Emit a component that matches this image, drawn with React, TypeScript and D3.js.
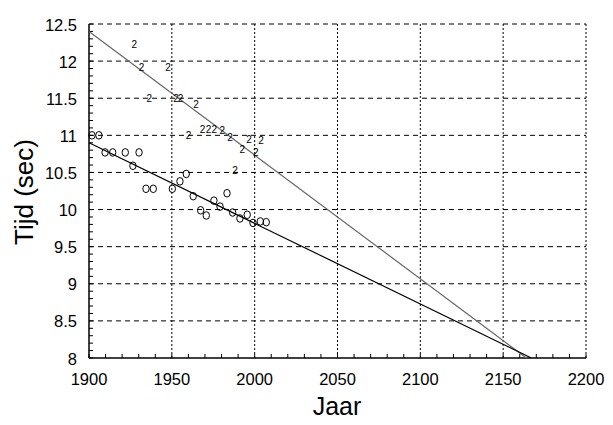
import React, { useEffect, useRef } from "react";
import { select, scaleLinear, range, line } from "d3";

// men's records (circles)
const menYears = [1901.8, 1906, 1909.7, 1914.3, 1921.9, 1926.5, 1930.2, 1934.4, 1938.8, 1950.3, 1954.9, 1958.7, 1962.9, 1967.4, 1970.8, 1975.4, 1979.1, 1983.3, 1986.7, 1991.1, 1995.5, 1999, 2003.4, 2007];
const menTimes = [11.0, 11.0, 10.77, 10.77, 10.77, 10.59, 10.77, 10.28, 10.28, 10.28, 10.38, 10.48, 10.18, 9.99, 9.92, 10.12, 10.04, 10.22, 9.96, 9.88, 9.93, 9.82, 9.84, 9.83];

// women's records ("2" markers)
const womenYears = [1927.3, 1931.7, 1947.7, 1936.4, 1952.5, 1955.3, 1964.6, 1960.1, 1968.6, 1972.2, 1975.6, 1980.4, 1985.1, 1996.6, 2003.8, 1992.5, 2000.6, 1988.1];
const womenTimes = [12.22, 11.92, 11.92, 11.49, 11.49, 11.49, 11.41, 11.0, 11.08, 11.08, 11.08, 11.07, 10.97, 10.95, 10.93, 10.81, 10.77, 10.53];

// fitted trend lines
const menFit = [[1900, 10.9], [2167, 8.0]];
const womenFit = [[1900, 12.4], [2164, 8.0]];

const xTicks = [1900, 1950, 2000, 2050, 2100, 2150, 2200];
const yTicks = [8, 8.5, 9, 9.5, 10, 10.5, 11, 11.5, 12, 12.5];

function App() {
  const svgRef = useRef<SVGSVGElement>(null);

  const width = 613;
  const height = 425;
  const margin = { top: 24, bottom: 67, left: 89, right: 27 };

  useEffect(() => {
    const svg = select(svgRef.current);
    svg.selectAll("*").remove();

    const x = scaleLinear()
      .domain([1900, 2200])
      .range([margin.left, width - margin.right]);
    const y = scaleLinear()
      .domain([8, 12.5])
      .range([height - margin.bottom, margin.top]);

    const font = "Arial, 'Liberation Sans', sans-serif";
    const g = svg.append("g");

    // grid
    g.selectAll(".hgrid")
      .data(yTicks.slice(1))
      .join("line")
      .attr("x1", margin.left)
      .attr("x2", width - margin.right)
      .attr("y1", (d) => y(d))
      .attr("y2", (d) => y(d))
      .attr("stroke", "#000")
      .attr("stroke-width", 1)
      .attr("stroke-dasharray", "5,4");

    g.selectAll(".vgrid")
      .data(xTicks.slice(1))
      .join("line")
      .attr("x1", (d) => x(d))
      .attr("x2", (d) => x(d))
      .attr("y1", margin.top)
      .attr("y2", height - margin.bottom)
      .attr("stroke", "#000")
      .attr("stroke-width", 1)
      .attr("stroke-dasharray", "2,2");

    // minor ticks
    g.selectAll(".xminor")
      .data(range(1900, 2201, 10))
      .join("line")
      .attr("x1", (d) => x(d))
      .attr("x2", (d) => x(d))
      .attr("y1", height - margin.bottom)
      .attr("y2", height - margin.bottom - 4)
      .attr("stroke", "#000");

    g.selectAll(".yminor")
      .data(range(80, 126, 1).map((d) => d / 10))
      .join("line")
      .attr("x1", margin.left)
      .attr("x2", margin.left + 4)
      .attr("y1", (d) => y(d))
      .attr("y2", (d) => y(d))
      .attr("stroke", "#000");

    // axes lines
    g.append("line")
      .attr("x1", margin.left)
      .attr("x2", margin.left)
      .attr("y1", margin.top)
      .attr("y2", height - margin.bottom)
      .attr("stroke", "#000")
      .attr("stroke-width", 1.5);
    g.append("line")
      .attr("x1", margin.left)
      .attr("x2", width - margin.right)
      .attr("y1", height - margin.bottom)
      .attr("y2", height - margin.bottom)
      .attr("stroke", "#000")
      .attr("stroke-width", 1.5);

    // tick labels
    g.selectAll(".xlab")
      .data(xTicks)
      .join("text")
      .attr("x", (d) => x(d))
      .attr("y", 385)
      .attr("text-anchor", "middle")
      .attr("font-family", font)
      .attr("font-size", 16.5)
      .text((d) => d);

    g.selectAll(".ylab")
      .data(yTicks)
      .join("text")
      .attr("x", 77)
      .attr("y", (d) => y(d))
      .attr("dy", "0.4em")
      .attr("text-anchor", "end")
      .attr("font-family", font)
      .attr("font-size", 16.5)
      .text((d) => d);

    // axis titles
    g.append("text")
      .attr("x", 337)
      .attr("y", 415)
      .attr("text-anchor", "middle")
      .attr("font-family", font)
      .attr("font-size", 25)
      .text("Jaar");

    g.append("text")
      .attr("transform", "translate(33, 192) rotate(-90)")
      .attr("text-anchor", "middle")
      .attr("font-family", font)
      .attr("font-size", 26)
      .text("Tijd (sec)");

    // trend lines
    const path = line<number[]>()
      .x((d) => x(d[0]))
      .y((d) => y(d[1]));

    g.append("path")
      .attr("d", path(womenFit))
      .attr("fill", "none")
      .attr("stroke", "#666")
      .attr("stroke-width", 1.2);

    g.append("path")
      .attr("d", path(menFit))
      .attr("fill", "none")
      .attr("stroke", "#000")
      .attr("stroke-width", 1.2);

    // markers
    g.selectAll(".men")
      .data(menYears)
      .join("ellipse")
      .attr("cx", (d) => x(d))
      .attr("cy", (d, i) => y(menTimes[i]))
      .attr("rx", 3.2)
      .attr("ry", 3.8)
      .attr("fill", "none")
      .attr("stroke", "#000")
      .attr("stroke-width", 1);

    g.selectAll(".women")
      .data(womenYears)
      .join("text")
      .attr("x", (d) => x(d))
      .attr("y", (d, i) => y(womenTimes[i]))
      .attr("dy", "0.35em")
      .attr("text-anchor", "middle")
      .attr("font-family", font)
      .attr("font-size", 10)
      .text("2");
  }, []);

  return (
    <svg
      ref={svgRef}
      width={width}
      height={height}
      style={{ position: "absolute", left: 0, top: 0, background: "#fff" }}
    />
  );
}

export default App;
